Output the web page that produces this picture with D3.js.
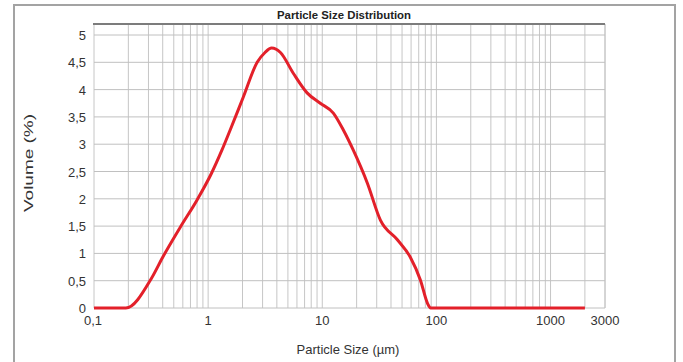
<!DOCTYPE html>
<html>
<head>
<meta charset="utf-8">
<script src="https://cdn.jsdelivr.net/npm/d3@7"></script>
<style>
  body { margin: 0; background: #fff; }
  text { font-family: Arial, "Liberation Sans", sans-serif; }
</style>
</head>
<body>
<svg></svg>
<script>
const width = 683;
const height = 362;

// particle size (um) and volume (%)
const sizes = [0.1, 0.19, 0.32, 0.4, 0.57, 0.8, 1.06, 1.32, 1.56, 2.03, 2.69, 3.15, 3.6, 4.3, 5.57, 7.36, 9.6, 12.5, 15.3, 18.7, 24.8, 32.3, 45.5, 59.1, 72.5, 83.4, 89, 2000];
const volumes = [0, 0, 0.55, 0.93, 1.48, 1.98, 2.45, 2.89, 3.26, 3.86, 4.5, 4.68, 4.76, 4.68, 4.3, 3.94, 3.75, 3.57, 3.26, 2.89, 2.29, 1.61, 1.25, 0.93, 0.51, 0.09, 0, 0];

const xTicks = [0.1, 1, 10, 100, 1000, 3000];
const xTickLabels = ['0,1', '1', '10', '100', '1000', '3000'];
const yTicks = [0, 0.5, 1, 1.5, 2, 2.5, 3, 3.5, 4, 4.5, 5];
const yTickLabels = ['0', '0,5', '1', '1,5', '2', '2,5', '3', '3,5', '4', '4,5', '5'];

const plotLeft = 94, plotRight = 605, plotTop = 24, plotBottom = 308;

window.onload = () => {
  const svg = d3.select('svg')
      .attr('width', width)
      .attr('height', height);

  const x = d3.scaleLog().domain([0.1, 3000]).range([plotLeft, plotRight]);
  const y = d3.scaleLinear().domain([0, 5]).range([plotBottom, 35]);

  // outer frame
  svg.append('rect')
      .attr('x', 14).attr('y', 5)
      .attr('width', 661).attr('height', 362)
      .attr('fill', 'none')
      .attr('stroke', '#a3a3a3')
      .attr('stroke-width', 2);

  // vertical grid (log decades)
  const minor = [];
  for (let p = -1; p <= 3; p++) {
    for (let k = 1; k <= 9; k++) {
      const v = k * Math.pow(10, p);
      if (v <= 3000) minor.push(v);
    }
  }
  minor.push(3000);
  svg.append('g')
    .selectAll('line')
    .data(minor)
    .join('line')
      .attr('x1', d => x(d)).attr('x2', d => x(d))
      .attr('y1', plotTop).attr('y2', plotBottom)
      .attr('stroke', '#c6c6c6')
      .attr('stroke-width', 1);

  // horizontal grid
  svg.append('g')
    .selectAll('line')
    .data(yTicks)
    .join('line')
      .attr('x1', plotLeft).attr('x2', plotRight)
      .attr('y1', d => y(d)).attr('y2', d => y(d))
      .attr('stroke', '#c0c0c0')
      .attr('stroke-width', 1);

  // bar above the plot
  svg.append('line')
      .attr('x1', plotLeft - 1).attr('x2', plotRight)
      .attr('y1', plotTop).attr('y2', plotTop)
      .attr('stroke', '#7c7c7c')
      .attr('stroke-width', 2);

  svg.append('text')
      .attr('x', 344)
      .attr('y', 19)
      .attr('text-anchor', 'middle')
      .attr('font-size', 10)
      .attr('font-weight', 'bold')
      .attr('fill', '#222')
      .attr('textLength', 134)
      .attr('lengthAdjust', 'spacingAndGlyphs')
      .text('Particle Size Distribution');

  // tick labels
  svg.append('g')
    .selectAll('text')
    .data(yTicks)
    .join('text')
      .attr('x', 86)
      .attr('y', d => y(d) + 5)
      .attr('text-anchor', 'end')
      .attr('font-size', 13)
      .attr('fill', '#333')
      .text((d, i) => yTickLabels[i]);

  svg.append('g')
    .selectAll('text')
    .data(xTicks)
    .join('text')
      .attr('x', (d, i) => x(d) + (i === 0 ? -1 : 0))
      .attr('y', 325)
      .attr('text-anchor', 'middle')
      .attr('font-size', 13)
      .attr('fill', '#333')
      .text((d, i) => xTickLabels[i]);

  // axis titles
  svg.append('text')
      .attr('x', 348)
      .attr('y', 354)
      .attr('text-anchor', 'middle')
      .attr('font-size', 13)
      .attr('fill', '#333')
      .text('Particle Size (\u00b5m)');

  svg.append('text')
      .attr('transform', 'translate(33,163) rotate(-90)')
      .attr('text-anchor', 'middle')
      .attr('font-size', 13)
      .attr('fill', '#333')
      .attr('textLength', 98)
      .attr('lengthAdjust', 'spacingAndGlyphs')
      .text('Volume (%)');

  // distribution curve
  const line = d3.line()
      .x(d => x(d[0]))
      .y(d => y(d[1]))
      .curve(d3.curveMonotoneX);

  svg.append('path')
      .datum(d3.zip(sizes, volumes))
      .attr('d', line)
      .attr('fill', 'none')
      .attr('stroke', '#e3202a')
      .attr('stroke-width', 3)
      .attr('stroke-linejoin', 'round');
};
</script>
</body>
</html>
